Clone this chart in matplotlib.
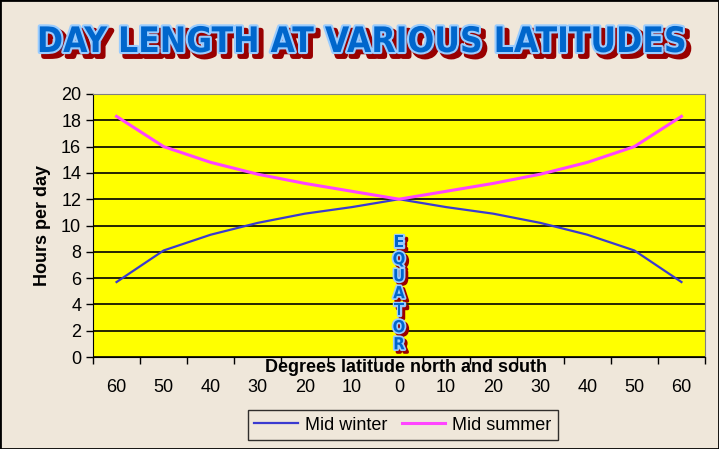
""" Day length at various latitudes
"""

import matplotlib
matplotlib.use('Agg')
import matplotlib.pyplot as plt
import matplotlib.patheffects as pe
from matplotlib.patches import Rectangle
from matplotlib import font_manager

# Data
latitudes = ['60', '50', '40', '30', '20', '10', '0',
             '10', '20', '30', '40', '50', '60']
mid_winter = [5.7, 8.1, 9.3, 10.2, 10.9, 11.4, 12.0,
              11.4, 10.9, 10.2, 9.3, 8.1, 5.7]
mid_summer = [18.3, 16.0, 14.8, 13.9, 13.2, 12.6, 12.0,
              12.6, 13.2, 13.9, 14.8, 16.0, 18.3]


def pick_font(names):
    installed = {f.name for f in font_manager.fontManager.ttflist}
    for n in names:
        if n in installed:
            return n
    return 'DejaVu Sans'


def main():
    bg = '#EFE7DA'
    sans = pick_font(['Liberation Sans', 'Arial', 'DejaVu Sans'])
    plt.rcParams['font.family'] = sans

    fig = plt.figure(figsize=(7.19, 4.49), dpi=100, facecolor=bg)
    W, H = 719, 449
    ax = fig.add_axes([93 / W, 1 - 357 / H, 612 / W, 263 / H])
    ax.set_facecolor('#FFFF00')

    x = list(range(len(latitudes)))
    ax.plot(x, mid_winter, color='#3A3AD0', lw=1.6, label='Mid winter')
    ax.plot(x, mid_summer, color='#FF44FF', lw=2.2, label='Mid summer')

    ax.set_xlim(-0.5, len(latitudes) - 0.5)
    ax.set_ylim(0, 20)
    ax.set_yticks(range(0, 21, 2))
    ax.yaxis.grid(True, color='black', lw=1.2)
    ax.set_axisbelow(True)
    ax.tick_params(axis='y', labelsize=13, length=5, width=1, direction='out')

    # category boundaries as major ticks, labels at centres
    ax.set_xticks([i - 0.5 for i in range(len(latitudes) + 1)])
    ax.set_xticklabels([])
    ax.set_xticks(x, minor=True)
    ax.set_xticklabels(latitudes, minor=True)
    ax.tick_params(axis='x', which='major', length=5, width=1, direction='out')
    ax.tick_params(axis='x', which='minor', length=0, labelsize=13, pad=16)

    for s in ['top', 'right']:
        ax.spines[s].set_color('#808080')
    for s in ['left', 'bottom']:
        ax.spines[s].set_color('black')

    ax.set_ylabel('Hours per day', fontsize=13, fontweight='bold', labelpad=7)
    fig.text(406 / W, 1 - 368 / H, 'Degrees latitude north and south',
             ha='center', va='center', fontsize=13, fontweight='bold')

    # Equator label
    ax.text(6, 4.85, '\n'.join('EQUATOR'), ha='center', va='center',
            fontsize=12, fontweight='bold', family='DejaVu Sans',
            fontstretch='condensed', color='#0066CC', linespacing=0.93,
            path_effects=[pe.Stroke(linewidth=2.5, foreground='#990000', offset=(2, -2)),
                          pe.withStroke(linewidth=2.5, foreground='#99CCFF')])

    # Title, fitted to the width of the reference banner
    title = fig.text(362 / W, 1 - 42 / H, 'DAY LENGTH AT VARIOUS LATITUDES',
                     ha='center', va='center', fontsize=30, fontweight='bold',
                     family='DejaVu Sans', fontstretch='condensed', color='#0066CC',
                     path_effects=[pe.Stroke(linewidth=4, foreground='#990000', offset=(3, -3)),
                                   pe.withStroke(linewidth=3, foreground='#99CCFF')])
    renderer = fig.canvas.get_renderer()
    width = title.get_window_extent(renderer).width
    title.set_fontsize(30 * 648 / width)

    leg = ax.legend(loc='center', bbox_to_anchor=(403 / W, 1 - 425 / H),
                    bbox_transform=fig.transFigure, ncol=2, fontsize=13,
                    frameon=True, fancybox=False, edgecolor='black',
                    handlelength=2.4, handletextpad=0.4, columnspacing=0.8,
                    borderpad=0.35)
    leg.get_frame().set_facecolor(bg)
    leg.get_frame().set_linewidth(1)

    fig.patches.append(Rectangle((0, 0), 1, 1, transform=fig.transFigure,
                                 fill=False, edgecolor='black', lw=2))

    fig.savefig('out.png', dpi=100, facecolor=bg)


if __name__ == '__main__':
    main()
